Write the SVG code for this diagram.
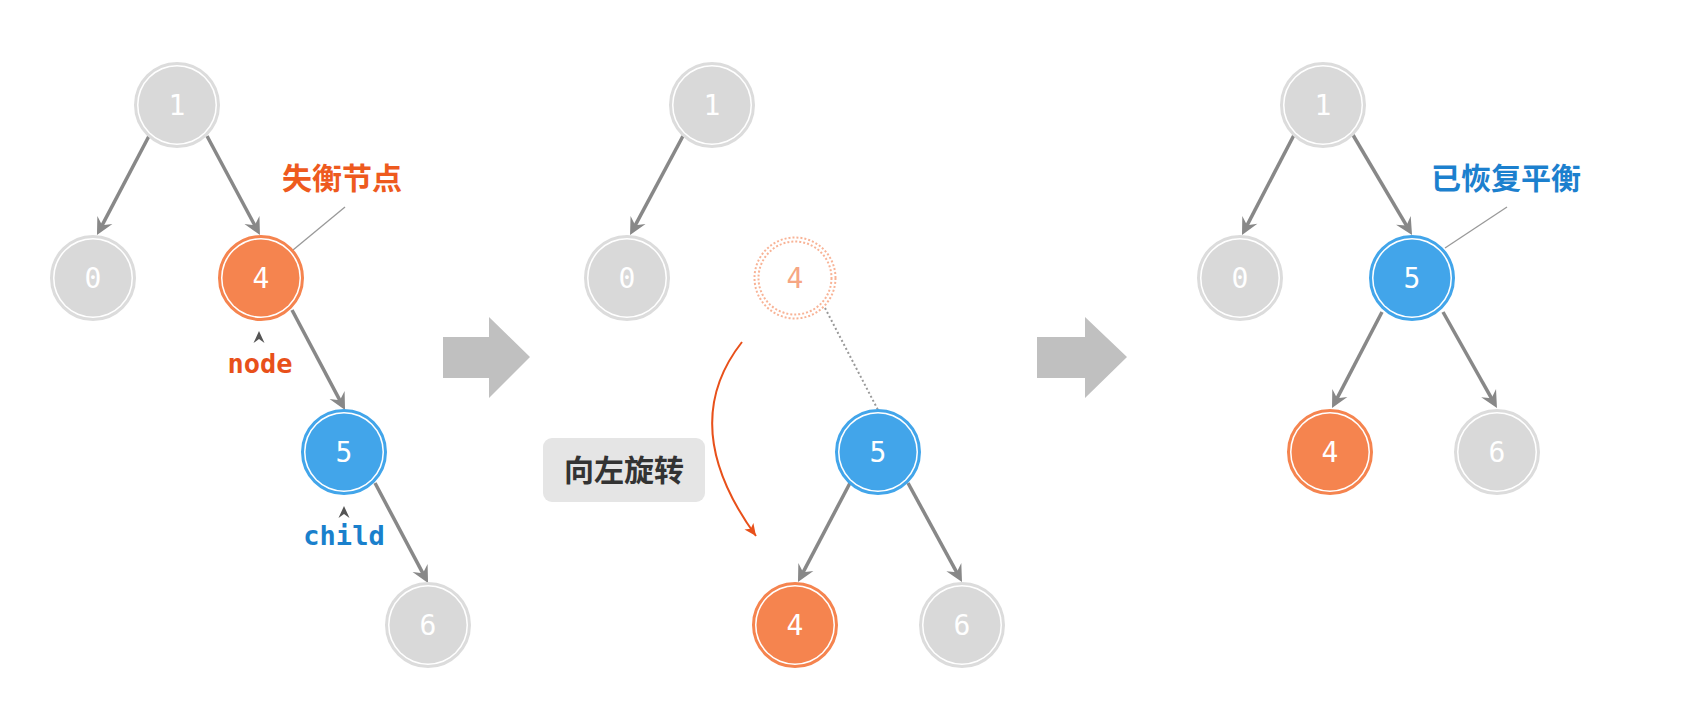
<svg xmlns="http://www.w3.org/2000/svg" width="1699" height="711" viewBox="0 0 1699 711">
<defs>
<style>
.bg{fill:#ffffff}
.ring{fill:none;stroke-width:3}
.grey .ring{stroke:#dcdcdc}
.grey .core{fill:#d9d9d9}
.orange .ring{stroke:#f5844f}
.orange .core{fill:#f5844f}
.blue .ring{stroke:#42a5ea}
.blue .core{fill:#42a5ea}
.num{font-family:"DejaVu Sans Mono","Liberation Mono",monospace;font-size:28px;fill:#ffffff;text-anchor:middle}
.edge{stroke:#888888;stroke-width:3.5;fill:none;marker-end:url(#ah)}
.lead{stroke:#999999;stroke-width:1.3;fill:none}
.cjk{font-family:"Noto Sans CJK SC","Noto Sans",sans-serif;font-weight:bold;font-size:30px;text-anchor:middle}
.mono{font-family:"DejaVu Sans Mono","Liberation Mono",monospace;font-weight:bold;font-size:27px;text-anchor:middle}
.bigarrow{fill:#c0c0c0}
.caret{fill:#555555}
</style>
<marker id="ah" viewBox="-20 -10 22 20" refX="-5" refY="0" markerWidth="22" markerHeight="20" markerUnits="userSpaceOnUse" orient="auto">
<path d="M0,0 L-17,-8.5 L-11,0 L-17,8.5 Z" fill="#888888"/>
</marker>
<marker id="oah" viewBox="-14 -8 16 16" refX="0" refY="0" markerWidth="16" markerHeight="16" markerUnits="userSpaceOnUse" orient="auto">
<path d="M0,0 L-12,-5.5 L-9,0 L-12,5.5 Z" fill="#e8501a"/>
</marker>
</defs>
<rect class="bg" x="0" y="0" width="1699" height="711"/>

<g id="connectors">
<line class="edge" x1="149" y1="136" x2="99.3" y2="230.6"/>
<line class="edge" x1="207" y1="136" x2="257.6" y2="230.6"/>
<line class="edge" x1="292" y1="310" x2="342.7" y2="405.6"/>
<line class="edge" x1="375" y1="483" x2="425.7" y2="578.6"/>
<line class="edge" x1="683" y1="136" x2="632.4" y2="230.6"/>
<line class="edge" x1="850" y1="483" x2="800.3" y2="577.6"/>
<line class="edge" x1="908" y1="483" x2="959.6" y2="577.6"/>
<line class="edge" x1="1294" y1="135" x2="1244.3" y2="230.6"/>
<line class="edge" x1="1353" y1="135" x2="1409.5" y2="230.7"/>
<line class="edge" x1="1382" y1="312" x2="1334.3" y2="403.6"/>
<line class="edge" x1="1443" y1="312" x2="1494.5" y2="403.6"/>
<line x1="825" y1="308" x2="878" y2="410" stroke="#999999" stroke-width="2" stroke-dasharray="2 2.5"/>
<path d="M742,342 Q676,426 756,536" stroke="#e8501a" stroke-width="2" fill="none" marker-end="url(#oah)"/>
<line class="lead" x1="345" y1="207" x2="293" y2="250"/>
<line class="lead" x1="1507" y1="207" x2="1445" y2="248"/>
</g>

<g id="p1-n1" class="grey"><circle class="ring" cx="177" cy="105" r="41.5"/><circle class="core" cx="177" cy="105" r="38.5"/><text class="num" x="177" y="115">1</text></g>
<g id="p1-n0" class="grey"><circle class="ring" cx="93" cy="278" r="41.5"/><circle class="core" cx="93" cy="278" r="38.5"/><text class="num" x="93" y="288">0</text></g>
<g id="p1-n4" class="orange"><circle class="ring" cx="261" cy="278" r="41.5"/><circle class="core" cx="261" cy="278" r="38.5"/><text class="num" x="261" y="288">4</text></g>
<g id="p1-n5" class="blue"><circle class="ring" cx="344" cy="452" r="41.5"/><circle class="core" cx="344" cy="452" r="38.5"/><text class="num" x="344" y="462">5</text></g>
<g id="p1-n6" class="grey"><circle class="ring" cx="428" cy="625" r="41.5"/><circle class="core" cx="428" cy="625" r="38.5"/><text class="num" x="428" y="635">6</text></g>

<g id="p1-labels">
<text class="cjk" x="342" y="189" fill="#ee5a1e">失衡节点</text>
<path class="caret" d="M253.5,343 L259,331 L264.5,343 L259,339 Z"/>
<text class="mono" x="260" y="373" fill="#e8501a">node</text>
<path class="caret" d="M338.5,518 L344,506 L349.5,518 L344,514 Z"/>
<text class="mono" x="344" y="545" fill="#1a80cc">child</text>
</g>

<g id="arrow1"><path class="bigarrow" d="M443,337 L489,337 L489,317 L530,357 L489,398 L489,378 L443,378 Z"/></g>

<g id="p2-n1" class="grey"><circle class="ring" cx="712" cy="105" r="41.5"/><circle class="core" cx="712" cy="105" r="38.5"/><text class="num" x="712" y="115">1</text></g>
<g id="p2-n0" class="grey"><circle class="ring" cx="627" cy="278" r="41.5"/><circle class="core" cx="627" cy="278" r="38.5"/><text class="num" x="627" y="288">0</text></g>
<g id="p2-n4ghost"><circle cx="795" cy="278" r="40.5" fill="none" stroke="#f8b396" stroke-width="2" stroke-dasharray="2 2"/><circle cx="795" cy="278" r="36.5" fill="none" stroke="#f8b396" stroke-width="2" stroke-dasharray="2 2"/><text class="num" x="795" y="288" style="fill:#f6a683">4</text></g>
<g id="p2-n5" class="blue"><circle class="ring" cx="878" cy="452" r="41.5"/><circle class="core" cx="878" cy="452" r="38.5"/><text class="num" x="878" y="462">5</text></g>
<g id="p2-n4" class="orange"><circle class="ring" cx="795" cy="625" r="41.5"/><circle class="core" cx="795" cy="625" r="38.5"/><text class="num" x="795" y="635">4</text></g>
<g id="p2-n6" class="grey"><circle class="ring" cx="962" cy="625" r="41.5"/><circle class="core" cx="962" cy="625" r="38.5"/><text class="num" x="962" y="635">6</text></g>

<g id="p2-label">
<rect x="543" y="438" width="162" height="64" rx="9" fill="#e5e5e5"/>
<text class="cjk" x="624" y="481" fill="#333333">向左旋转</text>
</g>

<g id="arrow2"><path class="bigarrow" d="M1037,337 L1085,337 L1085,317 L1127,357 L1085,398 L1085,378 L1037,378 Z"/></g>

<g id="p3-n1" class="grey"><circle class="ring" cx="1323" cy="105" r="41.5"/><circle class="core" cx="1323" cy="105" r="38.5"/><text class="num" x="1323" y="115">1</text></g>
<g id="p3-n0" class="grey"><circle class="ring" cx="1240" cy="278" r="41.5"/><circle class="core" cx="1240" cy="278" r="38.5"/><text class="num" x="1240" y="288">0</text></g>
<g id="p3-n5" class="blue"><circle class="ring" cx="1412" cy="278" r="41.5"/><circle class="core" cx="1412" cy="278" r="38.5"/><text class="num" x="1412" y="288">5</text></g>
<g id="p3-n4" class="orange"><circle class="ring" cx="1330" cy="452" r="41.5"/><circle class="core" cx="1330" cy="452" r="38.5"/><text class="num" x="1330" y="462">4</text></g>
<g id="p3-n6" class="grey"><circle class="ring" cx="1497" cy="452" r="41.5"/><circle class="core" cx="1497" cy="452" r="38.5"/><text class="num" x="1497" y="462">6</text></g>

<g id="p3-label">
<text class="cjk" x="1506" y="189" fill="#1c80ce">已恢复平衡</text>
</g>
</svg>
